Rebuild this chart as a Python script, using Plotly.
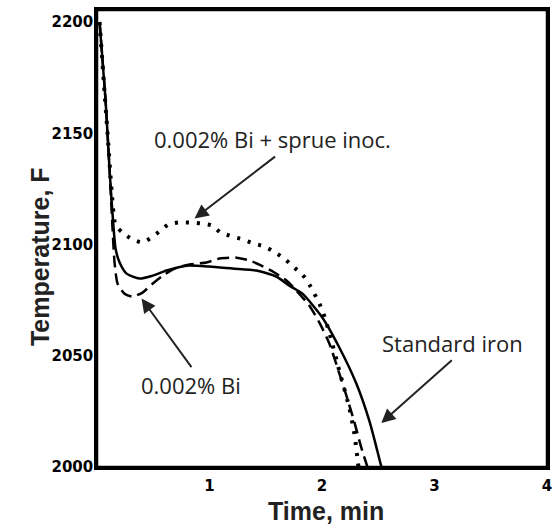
import plotly.graph_objects as go

# Standard iron (solid)
std_t = [0.023, 0.076, 0.112, 0.139, 0.165, 0.201, 0.263, 0.378, 0.494, 0.618, 0.796, 1.0,
         1.204, 1.417, 1.595, 1.71, 1.826, 2.004, 2.155, 2.306, 2.421, 2.492, 2.528]
std_T = [2200, 2164.9, 2133.3, 2113.1, 2098.2, 2091.9, 2086.9, 2084.7, 2086.0, 2088.3, 2090.5, 2090.1,
         2089.2, 2088.3, 2085.6, 2081.5, 2077.9, 2067.1, 2053.6, 2037.4, 2020.7, 2007.2, 2000]

# 0.002% Bi (dashed)
bi_t = [0.023, 0.076, 0.112, 0.139, 0.156, 0.183, 0.245, 0.316, 0.405, 0.494, 0.574, 0.689, 0.822,
        0.973, 1.089, 1.24, 1.355, 1.462, 1.577, 1.684, 1.772, 1.888, 1.977, 2.066, 2.155, 2.226,
        2.297, 2.35, 2.404]
bi_T = [2200, 2164.9, 2133.3, 2106.3, 2091.9, 2082.4, 2077.9, 2076.6, 2078.4, 2082.4, 2085.6, 2089.2, 2091.0,
        2091.9, 2093.7, 2094.1, 2092.8, 2090.5, 2087.4, 2083.8, 2079.3, 2072.5, 2064.9, 2055.4, 2041.9, 2030.6,
        2018.5, 2008.6, 2000]

# 0.002% Bi + sprue inoculation (dotted)
sp_t = [0.023, 0.059, 0.094, 0.13, 0.165, 0.227, 0.316, 0.405, 0.485, 0.556, 0.636, 0.725, 0.822,
        0.92, 1.018, 1.098, 1.204, 1.293, 1.39, 1.488, 1.586, 1.675, 1.755, 1.826, 1.888, 1.95,
        2.004, 2.065, 2.154, 2.243, 2.288, 2.315, 2.324]
sp_T = [2200, 2174, 2150, 2124, 2108.6, 2105.4, 2102.3, 2100.9, 2103.2, 2105.9, 2109.0, 2109.9, 2109.9,
        2109.5, 2108.6, 2105.4, 2103.6, 2102.3, 2100.5, 2099.1, 2096.4, 2093.2, 2089.6, 2086.5, 2082.0, 2076.1,
        2070.3, 2060.4, 2043.2, 2026.6, 2014.9, 2004.0, 2000]

x_ticks = [1, 2, 3, 4]
y_ticks = [2000, 2050, 2100, 2150, 2200]

fig = go.Figure()
fig.add_trace(go.Scatter(x=sp_t, y=sp_T, mode="lines", line=dict(color="black", width=4, dash="3px,8px", shape="spline", smoothing=0.6)))
fig.add_trace(go.Scatter(x=bi_t, y=bi_T, mode="lines", line=dict(color="black", width=2.5, dash="12px,6px", shape="spline", smoothing=0.6)))
fig.add_trace(go.Scatter(x=std_t, y=std_T, mode="lines", line=dict(color="black", width=2.5, shape="spline", smoothing=0.6)))

tickfont = dict(family="DejaVu Sans", size=15, color="black", weight="bold")
fig.update_xaxes(range=[0, 4], tickvals=x_ticks, ticktext=[str(v) for v in x_ticks], showgrid=False,
                 zeroline=False, showline=True, linecolor="black", linewidth=2.5, mirror="all",
                 ticks="", tickfont=tickfont, automargin=False, ticklabelstandoff=3)
fig.update_yaxes(range=[2000, 2205.4], tickvals=y_ticks, ticktext=[str(v) for v in y_ticks], showgrid=False,
                 zeroline=False, showline=True, linecolor="black", linewidth=2.5, mirror="all",
                 ticks="", tickfont=tickfont, automargin=False, ticklabelstandoff=-2)

afont = dict(family="Open Sans", size=22, color="#222")
ann = [
    dict(x=1.556, y=2147.3, text="0.002% Bi + sprue inoc.", showarrow=False, font=afont),
    dict(x=0.836, y=2036.9, text="0.002% Bi", showarrow=False, font=afont),
    dict(x=3.156, y=2055.9, text="Standard iron", showarrow=False, font=afont),
    dict(x=0.867, y=2111.7, ax=82, ay=-63, text="", showarrow=True, arrowhead=2, arrowsize=1.4, arrowwidth=2, arrowcolor="#222"),
    dict(x=0.396, y=2075.7, ax=51, ay=70, text="", showarrow=True, arrowhead=2, arrowsize=1.4, arrowwidth=2, arrowcolor="#222"),
    dict(x=2.527, y=2019.8, ax=72, ay=-64, text="", showarrow=True, arrowhead=2, arrowsize=1.4, arrowwidth=2, arrowcolor="#222"),
    dict(xref="paper", yref="paper", x=-0.162, y=0.4595, text="Temperature, F", textangle=-90, showarrow=False,
         font=dict(family="Liberation Sans", size=25, color="#222", weight="bold")),
    dict(xref="paper", yref="paper", x=0.509, y=-0.097, text="Time, min", showarrow=False, yanchor="middle",
         font=dict(family="Liberation Sans", size=25, color="#222", weight="bold")),
]
fig.update_layout(width=553, height=529, margin=dict(l=97, r=6, t=10, b=62), showlegend=False,
                  paper_bgcolor="white", plot_bgcolor="white", annotations=ann,
                  shapes=[dict(type="rect", xref="paper", yref="paper", x0=0, x1=1, y0=0, y1=1,
                               line=dict(color="black", width=2.5), layer="above")])
fig.write_html("out.html")
